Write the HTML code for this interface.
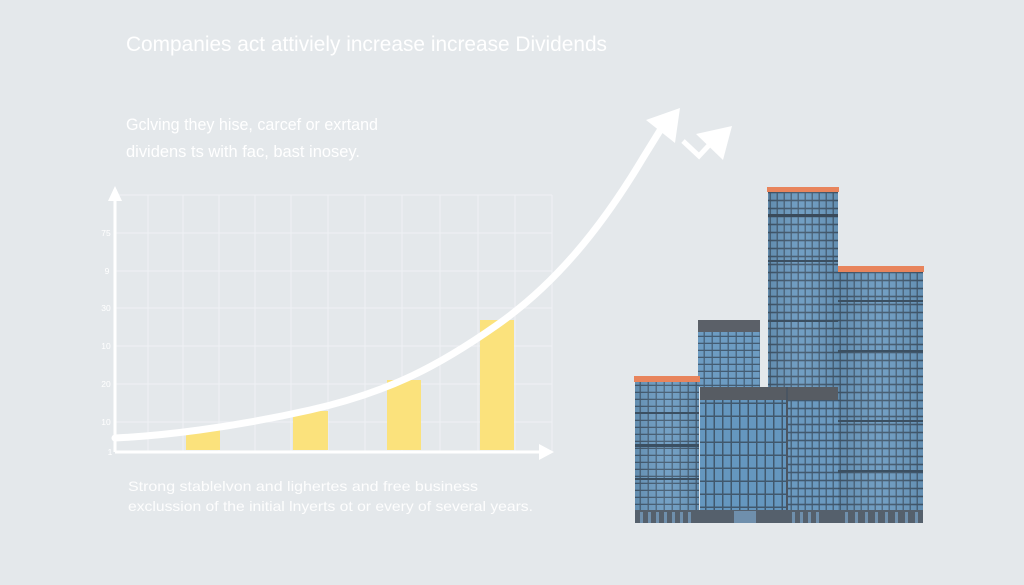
<!DOCTYPE html>
<html>
<head>
<meta charset="utf-8">
<style>
html,body{margin:0;padding:0;background:#e4e8eb;}
svg{display:block;}
text{font-family:"Liberation Sans","DejaVu Sans",sans-serif;fill:#ffffff;}
</style>
</head>
<body>
<svg width="1024" height="585" viewBox="0 0 1024 585" xmlns="http://www.w3.org/2000/svg">
<defs>
  <pattern id="win" x="0" y="0" width="7" height="8" patternUnits="userSpaceOnUse">
    <rect width="7" height="8" fill="#42596e"/>
    <rect x="0.8" y="1.3" width="5.8" height="6.4" fill="#6b9ac0"/>
  </pattern>
  <pattern id="win2" x="0" y="0" width="8" height="7" patternUnits="userSpaceOnUse">
    <rect width="8" height="7" fill="#445c72"/>
    <rect x="0.8" y="1" width="6.8" height="5.7" fill="#6d9cc2"/>
  </pattern>
  <pattern id="win3" x="0" y="0" width="8.5" height="13" patternUnits="userSpaceOnUse">
    <rect width="8.5" height="13" fill="#41586d"/>
    <rect x="1" y="1" width="7" height="11.5" fill="#6597bf"/>
  </pattern>
  <linearGradient id="shade" x1="0" y1="0" x2="1" y2="0">
    <stop offset="0" stop-color="#000" stop-opacity="0.10"/>
    <stop offset="0.5" stop-color="#fff" stop-opacity="0.05"/>
    <stop offset="1" stop-color="#000" stop-opacity="0.08"/>
  </linearGradient>
</defs>

<rect width="1024" height="585" fill="#e4e8eb"/>

<!-- Title -->
<text x="126" y="51" font-size="21" textLength="481" lengthAdjust="spacingAndGlyphs">Companies act  attiviely increase increase Dividends</text>
<!-- Subtitle -->
<text x="126" y="130" font-size="17" textLength="252" lengthAdjust="spacingAndGlyphs">Gclving they hise, carcef or exrtand</text>
<text x="126" y="157" font-size="17" textLength="234" lengthAdjust="spacingAndGlyphs">dividens ts with fac, bast inosey.</text>

<!-- Grid -->
<g stroke="#f1f3f5" stroke-width="1" opacity="0.9">
  <line x1="115" y1="195" x2="552" y2="195"/>
  <line x1="115" y1="233" x2="552" y2="233"/>
  <line x1="115" y1="271" x2="552" y2="271"/>
  <line x1="115" y1="308" x2="552" y2="308"/>
  <line x1="115" y1="346" x2="552" y2="346"/>
  <line x1="115" y1="384" x2="552" y2="384"/>
  <line x1="115" y1="422" x2="552" y2="422"/>
  <line x1="148" y1="195" x2="148" y2="452"/>
  <line x1="183" y1="195" x2="183" y2="452"/>
  <line x1="219" y1="195" x2="219" y2="452"/>
  <line x1="255" y1="195" x2="255" y2="452"/>
  <line x1="291" y1="195" x2="291" y2="452"/>
  <line x1="328" y1="195" x2="328" y2="452"/>
  <line x1="365" y1="195" x2="365" y2="452"/>
  <line x1="402" y1="195" x2="402" y2="452"/>
  <line x1="440" y1="195" x2="440" y2="452"/>
  <line x1="478" y1="195" x2="478" y2="452"/>
  <line x1="515" y1="195" x2="515" y2="452"/>
  <line x1="552" y1="195" x2="552" y2="452"/>
</g>

<!-- Y labels -->
<g font-size="8.5" text-anchor="middle">
  <text x="106" y="236">75</text>
  <text x="107" y="274">9</text>
  <text x="106" y="311">30</text>
  <text x="106" y="349">10</text>
  <text x="106" y="387">20</text>
  <text x="106" y="425">10</text>
  <text x="110" y="455">1</text>
</g>

<!-- Bars -->
<g fill="#fbe27c">
  <rect x="186" y="430" width="34" height="20"/>
  <rect x="293" y="411" width="35" height="39"/>
  <rect x="387" y="380" width="34" height="70"/>
  <rect x="480" y="320" width="34" height="130"/>
</g>

<!-- Axes -->
<line x1="115" y1="452" x2="115" y2="196" stroke="#ffffff" stroke-width="3"/>
<polygon points="108,201 115,186 122,201" fill="#ffffff"/>
<line x1="115" y1="452" x2="542" y2="452" stroke="#ffffff" stroke-width="3"/>
<polygon points="539,444 554,452 539,460" fill="#ffffff"/>

<!-- Curve -->
<path d="M115,438 C160,436 230,428 310,410 S440,365 497,325 S600,230 643,158 L664,124" fill="none" stroke="#ffffff" stroke-width="7" stroke-linecap="round"/>
<polygon points="646,120 680,108 675,143" fill="#ffffff"/>
<!-- small arrow -->
<polyline points="683,141 699,156 712,142" fill="none" stroke="#ffffff" stroke-width="5"/>
<polygon points="696,134 732,126 723,160" fill="#ffffff"/>

<!-- Bottom text -->
<text x="128" y="491" font-size="14" textLength="350" lengthAdjust="spacingAndGlyphs" opacity="0.95">Strong stablelvon and lighertes and free business</text>
<text x="128" y="511" font-size="14" textLength="405" lengthAdjust="spacingAndGlyphs" opacity="0.95">exclussion of the initial lnyerts ot or every of several years.</text>

<!-- Buildings -->
<!-- right building -->
<rect x="838" y="270" width="85" height="253" fill="url(#win)"/>
<rect x="838" y="270" width="85" height="253" fill="url(#shade)"/>
<rect x="837" y="266" width="87" height="6" fill="#e8845c"/>
<g fill="#3b4f61">
  <rect x="838" y="300" width="85" height="2"/>
  <rect x="838" y="350" width="85" height="2"/>
  <rect x="838" y="420" width="85" height="2"/>
  <rect x="838" y="470" width="85" height="2"/>
</g>
<!-- tower -->
<rect x="768" y="191" width="70" height="332" fill="url(#win)"/>
<rect x="768" y="191" width="70" height="332" fill="url(#shade)"/>
<rect x="767" y="187" width="72" height="5" fill="#e8845c"/>
<rect x="768" y="214" width="70" height="3" fill="#3a4a5a"/>
<g fill="#3b4f61">
  <rect x="768" y="260" width="70" height="2"/>
  <rect x="768" y="320" width="70" height="2"/>
</g>
<!-- back small building -->
<rect x="698" y="321" width="62" height="66" fill="url(#win2)"/>
<rect x="698" y="320" width="62" height="12" fill="#5b6068"/>
<!-- left building -->
<rect x="635" y="380" width="64" height="143" fill="url(#win2)"/>
<rect x="635" y="380" width="64" height="143" fill="url(#shade)"/>
<rect x="634" y="376" width="66" height="6" fill="#e8845c"/>
<g fill="#3b4f61">
  <rect x="635" y="412" width="64" height="2"/>
  <rect x="635" y="444" width="64" height="3"/>
  <rect x="635" y="478" width="64" height="2"/>
</g>
<!-- front block -->
<rect x="700" y="387" width="138" height="136" fill="url(#win3)"/>
<rect x="787" y="400" width="51" height="123" fill="url(#win)"/>
<rect x="700" y="387" width="138" height="13" fill="#575c63"/>
<rect x="786" y="387" width="2" height="136" fill="#4a5562"/>
<!-- base -->
<rect x="635" y="510" width="288" height="13" fill="#55606c"/>
<g fill="#6f8fac">
  <rect x="640" y="512" width="3" height="11"/>
  <rect x="648" y="512" width="3" height="11"/>
  <rect x="656" y="512" width="3" height="11"/>
  <rect x="664" y="512" width="3" height="11"/>
  <rect x="672" y="512" width="3" height="11"/>
  <rect x="680" y="512" width="3" height="11"/>
  <rect x="688" y="512" width="3" height="11"/>
  <rect x="734" y="511" width="22" height="12"/>
  <rect x="792" y="512" width="3" height="11"/>
  <rect x="800" y="512" width="3" height="11"/>
  <rect x="808" y="512" width="3" height="11"/>
  <rect x="816" y="512" width="3" height="11"/>
  <rect x="845" y="512" width="3" height="11"/>
  <rect x="855" y="512" width="3" height="11"/>
  <rect x="865" y="512" width="3" height="11"/>
  <rect x="875" y="512" width="3" height="11"/>
  <rect x="885" y="512" width="3" height="11"/>
  <rect x="895" y="512" width="3" height="11"/>
  <rect x="905" y="512" width="3" height="11"/>
  <rect x="915" y="512" width="3" height="11"/>
</g>
</svg>
</body>
</html>
